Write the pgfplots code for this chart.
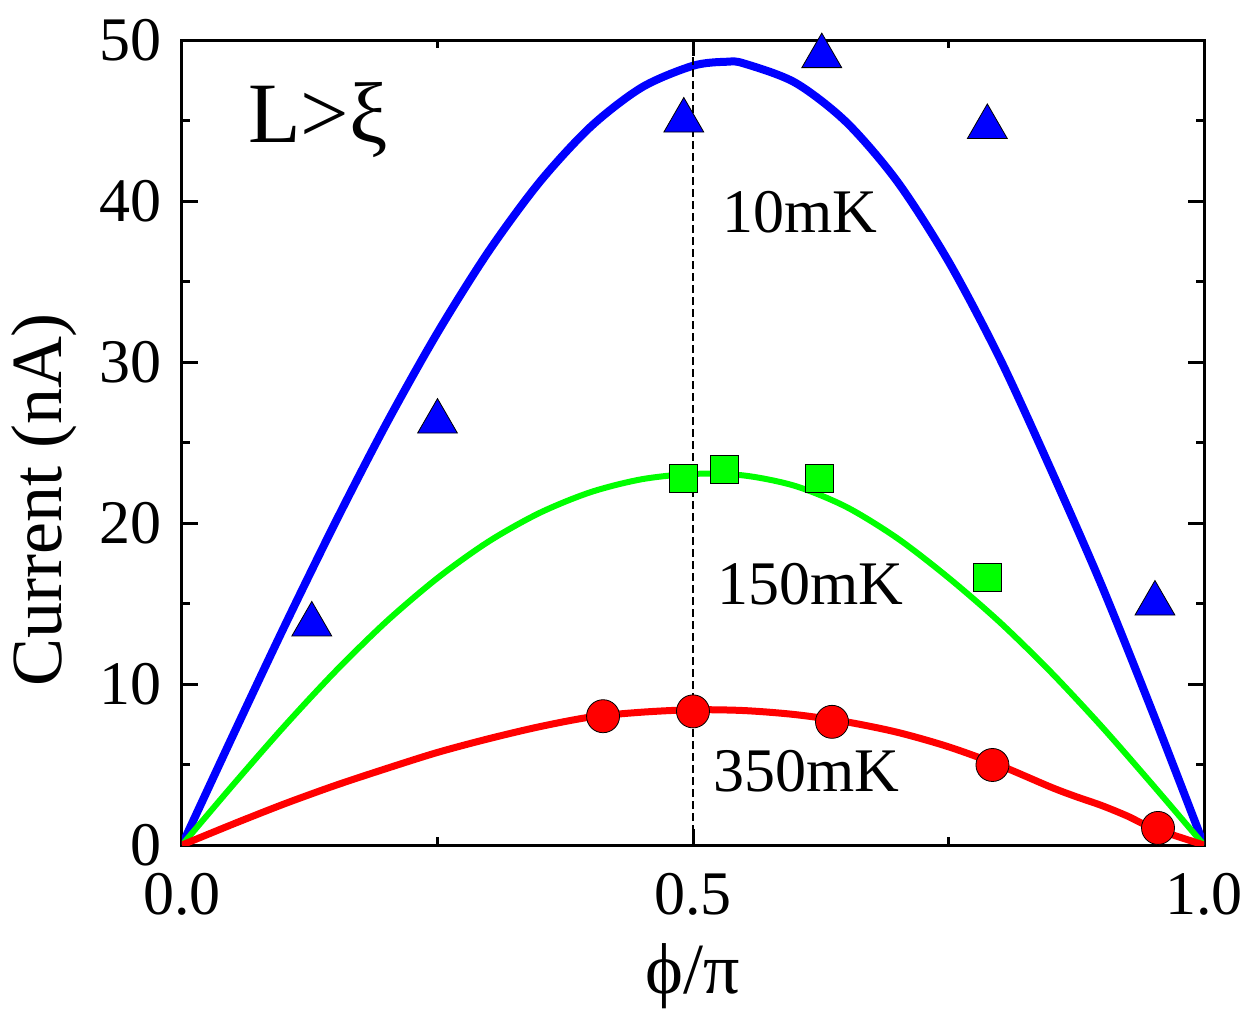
\documentclass[border=0pt]{standalone}
\usepackage{fontspec}
\setmainfont{Liberation Serif}
\newfontfamily\tnr{Liberation Serif}
\usepackage{pgfplots}
\pgfplotsset{compat=1.18}
\definecolor{cblue}{RGB}{0,0,255}
\definecolor{cgreen}{RGB}{0,255,0}
\definecolor{cred}{RGB}{255,0,0}
\begin{document}
\begin{tikzpicture}
\useasboundingbox (-91pt,-84.5pt) rectangle (535pt,422.5pt);
\begin{axis}[
  scale only axis, width=511pt, height=402.5pt,
  xmin=0, xmax=1, ymin=0, ymax=50,
  xtick={0,0.5,1}, xticklabels={0.0,0.5,1.0},
  ytick={0,10,20,30,40,50},
  yticklabels={0,10,20,30,40,50},
  minor xtick={0.25,0.75}, minor ytick={5,15,25,35,45},
  tick align=inside,
  major tick length=8pt, minor tick length=4pt,
  axis line style={line width=1.5pt},
  every tick/.style={line width=1.5pt, black},
  tick label style={font=\tnr\fontsize{31}{37}\selectfont, inner sep=0pt},
  xticklabel style={yshift=-14pt},
  yticklabel style={xshift=-10pt},
  /pgf/number format/assume math mode=true,
  xlabel={ϕ/π}, ylabel={Current (nA)},
  label style={font=\tnr\fontsize{36}{43}\selectfont},
  xlabel style={at={(axis description cs:0.5,-0.163)}, anchor=center},
  ylabel style={at={(axis description cs:-0.135,0.4286)}, anchor=center},
  clip=true,
]
% fitted curves
\addplot[cblue, line width=4pt, smooth, line join=round] coordinates {
(0,0) (0.05,6.83) (0.10,13.55) (0.15,20.03) (0.20,26.17) (0.25,31.82) (0.30,36.87)
(0.35,41.18) (0.40,44.62) (0.45,47.06) (0.50,48.40) (0.533,48.65) (0.55,48.54)
(0.60,47.35) (0.65,44.9) (0.70,41.2) (0.75,36.25) (0.80,30.25) (0.85,23.35)
(0.90,16.1) (0.95,8.2) (1.0,0)};
\addplot[cgreen, line width=3pt, smooth, line join=round] coordinates {
(0,0) (0.05,3.74) (0.10,7.37) (0.15,10.78) (0.20,13.88) (0.25,16.58) (0.30,18.85)
(0.35,20.63) (0.40,21.92) (0.45,22.72) (0.50,23.05) (0.55,22.95) (0.60,22.3)
(0.65,21.0) (0.70,19.05) (0.75,16.6) (0.80,13.85) (0.85,10.75) (0.90,7.35)
(0.95,3.72) (1.0,0)};
\addplot[cred, line width=3.5pt, smooth, line join=round] coordinates {
(0,0) (0.05,1.3) (0.10,2.55) (0.15,3.7) (0.20,4.75) (0.25,5.75) (0.30,6.6)
(0.35,7.35) (0.40,7.95) (0.45,8.25) (0.50,8.4) (0.55,8.35) (0.60,8.1) (0.65,7.65)
(0.70,7.0) (0.75,6.1) (0.80,4.95) (0.85,3.6) (0.875,3.0) (0.90,2.45) (0.925,1.8)
(0.95,1.05) (1.0,0)};
% data points
\addplot[only marks, mark=triangle*, mark size=11.5pt, mark options={fill=cblue, draw=none}] coordinates {
(0.127,13.7) (0.25,26.3) (0.491,45.0) (0.626,49.0) (0.788,44.6) (0.952,15.0)};
\addplot[only marks, mark=square*, mark size=7pt, mark options={fill=cgreen, draw=none}] coordinates {
(0.491,22.8) (0.531,23.3) (0.624,22.8) (0.788,16.6)};
\addplot[only marks, mark=*, mark size=8.25pt, mark options={fill=cred, draw=none}] coordinates {
(0.412,8.0) (0.5,8.3) (0.636,7.65) (0.793,4.97) (0.955,1.06)};
% reference line
\addplot[black, line width=0.75pt, dash pattern=on 4pt off 2pt] coordinates {(0.5,0) (0.5,50)};
% labels
\node[anchor=base west, inner sep=0, font=\tnr\fontsize{43}{52}\selectfont] at (axis cs:0.0646,43.66) {L>ξ};
\node[anchor=base west, inner sep=0, font=\tnr\fontsize{31}{37}\selectfont] at (axis cs:0.528,38.06) {10mK};
\node[anchor=base west, inner sep=0, font=\tnr\fontsize{31}{37}\selectfont] at (axis cs:0.5235,14.93) {150mK};
\node[anchor=base west, inner sep=0, font=\tnr\fontsize{31}{37}\selectfont] at (axis cs:0.5196,3.30) {350mK};
\end{axis}
\end{tikzpicture}
\end{document}
